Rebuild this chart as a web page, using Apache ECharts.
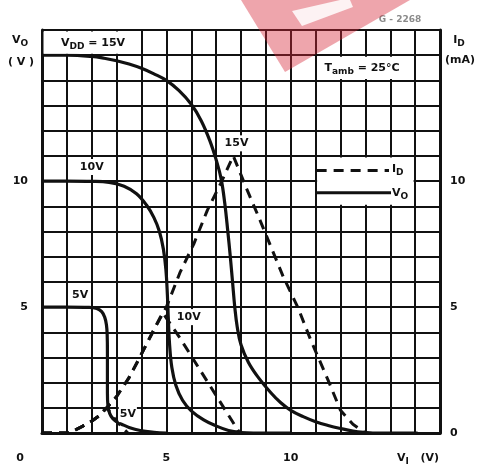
<!DOCTYPE html>
<html><head><meta charset="utf-8">
<script src="https://cdn.jsdelivr.net/npm/echarts@6/dist/echarts.min.js"></script>
<style>html,body{margin:0;padding:0;background:#fff}#c{width:480px;height:466px}</style>
</head><body><div id="c"></div>
<script>
// V_O (solid) curves, [V_I, V_O]
const vo15 = [[0,15],[1,15],[2,14.95],[2.5,14.88],[3,14.78],[3.5,14.65],[4,14.48],[4.5,14.26],[5,14.0],[5.5,13.6],[6,13.05],[6.4,12.4],[6.75,11.6],[7.0,10.85],[7.2,10.1],[7.35,9.1],[7.47,8.0],[7.57,7.0],[7.66,6.0],[7.75,5.0],[7.85,4.2],[8.0,3.5],[8.3,2.8],[8.7,2.2],[9.2,1.6],[9.6,1.2],[10,0.9],[10.5,0.65],[11,0.45],[11.5,0.3],[12,0.18],[12.5,0.08],[13,0.02],[13.3,0],[14,0],[15.1,0]];
const vo10 = [[0,10],[1,10],[2,9.99],[2.7,9.95],[3.3,9.8],[3.8,9.5],[4.2,9.05],[4.5,8.55],[4.72,8.0],[4.88,7.3],[4.98,6.5],[5.04,5.5],[5.08,4.5],[5.13,3.5],[5.22,2.6],[5.38,1.9],[5.65,1.3],[6.0,0.88],[6.5,0.52],[7,0.28],[7.5,0.1],[8,0.02],[8.5,0],[9.2,0],[10,0]];
const vo5 = [[0,5],[1,5],[1.9,4.99],[2.2,4.94],[2.4,4.82],[2.52,4.6],[2.59,4.3],[2.62,3.9],[2.63,3.2],[2.63,2.4],[2.63,1.6],[2.65,1.1],[2.72,0.78],[2.85,0.57],[3.0,0.45],[3.2,0.35],[3.5,0.22],[3.95,0.1],[4.5,0.03],[5,0]];
// I_D (dashed) curves, [V_I, I_D]
const id15 = [[0,0],[1.1,0],[1.5,0.2],[1.95,0.44],[2.3,0.68],[2.6,1.0],[3.0,1.45],[3.5,2.2],[3.85,2.85],[4.5,4.1],[5.0,5.0],[5.56,6.4],[6.1,7.5],[6.65,8.85],[7.18,9.9],[7.69,11.0],[8.25,9.64],[8.7,8.6],[9.2,7.4],[9.7,6.2],[10.28,5.0],[10.8,3.7],[11.5,2.1],[12.0,0.9],[12.5,0.35],[13.0,0]];
const id10 = [[0,0],[1.1,0],[1.5,0.2],[1.95,0.44],[2.3,0.68],[2.6,1.0],[3.0,1.45],[3.5,2.2],[3.85,2.85],[4.5,4.1],[4.85,4.78],[5.56,3.75],[6.77,1.85],[7.5,0.7],[7.95,0]];
const id5 = [[0,0],[1.1,0],[1.5,0.2],[1.95,0.44],[2.3,0.68],[2.6,1.0],[2.9,0.6],[3.15,0.3],[3.45,0]];
// tick labels
const xTickLabels = [5, 10];
const leftTickLabels = [5, 10];
const rightTickLabels = [0, 5, 10];

const FF = 'DejaVu Sans';
const INK = '#111';
const chart = echarts.init(document.getElementById('c'));
const lbl = {fontFamily: FF, fontWeight: 'bold', fontSize: 11, color: INK};
const rich = {
  m: {fontFamily: FF, fontWeight: 'bold', fontSize: 11, color: INK, lineHeight: 16},
  s: {fontFamily: FF, fontWeight: 'bold', fontSize: 9, color: INK, verticalAlign: 'bottom', lineHeight: 16, padding: [7, 0, 0, 0]}
};
function solid(name, data) {
  return {type: 'line', name, data, yAxisIndex: 0, showSymbol: false, smooth: 0.4,
    lineStyle: {color: INK, width: 3.2}, z: 5, animation: false};
}
function dashed(name, data) {
  return {type: 'line', name, data, yAxisIndex: 1, showSymbol: false, smooth: false,
    lineStyle: {color: INK, width: 3, type: [10, 7]}, z: 5, animation: false};
}
const split = {show: true, lineStyle: {color: INK, width: 2}};
chart.setOption({
  animation: false,
  backgroundColor: '#fff',
  grid: {left: 42, right: 40, top: 30, bottom: 33},
  xAxis: {type: 'value', min: 0, max: 16, interval: 1,
    axisLine: {show: true, lineStyle: {color: INK, width: 3}}, axisTick: {show: false},
    splitLine: split,
    axisLabel: Object.assign({margin: 20, formatter: v => xTickLabels.includes(v) ? String(v) : ''}, lbl)},
  yAxis: [
    {type: 'value', min: 0, max: 16, interval: 1, position: 'left',
      axisLine: {show: true, lineStyle: {color: INK, width: 3}}, axisTick: {show: false},
      splitLine: split,
      axisLabel: Object.assign({margin: 14, formatter: v => leftTickLabels.includes(v) ? String(v) : ''}, lbl)},
    {type: 'value', min: 0, max: 16, interval: 1, position: 'right',
      axisLine: {show: true, lineStyle: {color: INK, width: 3}}, axisTick: {show: false},
      splitLine: {show: false},
      axisLabel: Object.assign({margin: 10, formatter: v => rightTickLabels.includes(v) ? String(v) : ''}, lbl)}
  ],
  series: [solid('VO 15V', vo15), solid('VO 10V', vo10), solid('VO 5V', vo5),
    dashed('ID 15V', id15), dashed('ID 10V', id10), dashed('ID 5V', id5)]
});

function P(x, y) { return chart.convertToPixel({gridIndex: 0}, [x, y]); }
function box(x0, y0, x1, y1) {
  const a = P(x0, y1), b = P(x1, y0);
  return {type: 'rect', z: 50, shape: {x: a[0] + 1.5, y: a[1] + 1.5, width: b[0] - a[0] - 3, height: b[1] - a[1] - 3},
    style: {fill: '#fff'}};
}
function txt(x, y, text, opts) {
  return Object.assign({type: 'text', z: 60, x, y,
    style: Object.assign({text, rich, fill: INK, align: 'center', verticalAlign: 'middle'}, opts || {})});
}
function curveLabel(dx, dy, text) {
  const p = P(dx, dy);
  return txt(p[0], p[1], '{m|' + text + '}', {backgroundColor: '#fff', padding: [0, 1]});
}
const legA = P(11, 10.5), legB = P(11, 9.5);
const elements = [
  box(0, 15, 4, 16), box(11, 14, 15, 15), box(11, 9, 15, 11),
  txt(93, 43, '{m|V}{s|DD}{m| = 15V}'),
  txt(362, 68, '{m|T}{s|amb}{m| = 25°C}'),
  {type: 'line', z: 60, shape: {x1: legA[0] + 1, y1: legA[1] + 2, x2: 389, y2: legA[1] + 2}, style: {stroke: INK, lineWidth: 3, lineDash: [10, 7]}},
  {type: 'line', z: 60, shape: {x1: legB[0] + 1, y1: legB[1] - 1, x2: 391, y2: legB[1] - 1}, style: {stroke: INK, lineWidth: 3}},
  txt(392, legA[1] + 1, '{m|I}{s|D}', {align: 'left'}),
  txt(392, legB[1] - 1, '{m|V}{s|O}', {align: 'left'}),
  curveLabel(2.0, 10.56, '10V'),
  curveLabel(1.53, 5.48, '5V'),
  curveLabel(7.82, 11.5, '15V'),
  curveLabel(5.9, 4.6, '10V'),
  curveLabel(3.45, 0.75, '5V'),
  txt(20, 40, '{m|V}{s|O}'),
  txt(21, 62, '{m|( V )}'),
  txt(459, 40, '{m|I}{s|D}'),
  txt(460, 60, '{m|(mA)}'),
  txt(20, 458, '{m|0}'),
  txt(418, 458, '{m|V}{s|I}{m|   (V)}'),
  txt(400, 20, 'G - 2268', {fontFamily: FF, fontWeight: 'bold', fontSize: 9, fill: '#8a8a8a'}),
  {type: 'polygon', z: 80, shape: {points: [[241, 0], [410, 0], [285, 72]]}, style: {fill: 'rgba(214,40,58,0.42)'}},
  {type: 'polygon', z: 81, shape: {points: [[292, 11], [340, 0], [350, 0], [353, 7], [302, 26]]}, style: {fill: 'rgba(255,255,255,0.85)'}}
];
chart.setOption({graphic: {elements}});
</script>
</body></html>
